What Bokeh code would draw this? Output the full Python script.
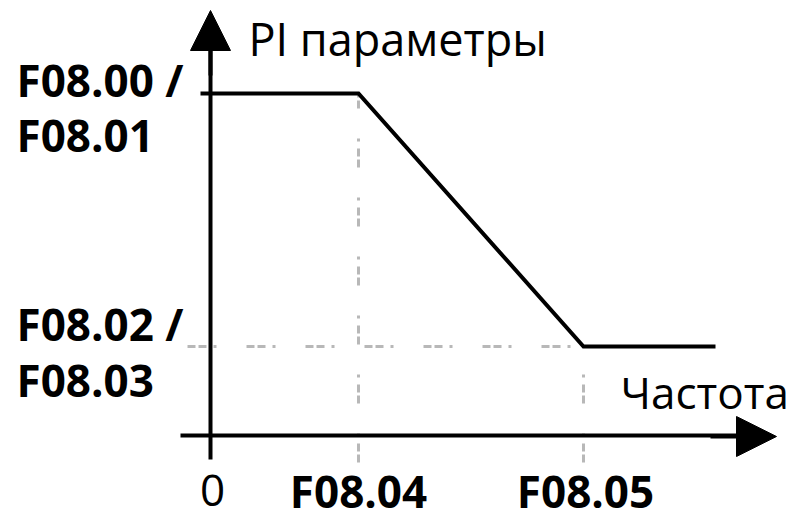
from bokeh.plotting import figure
from bokeh.models import Range1d, Arrow, NormalHead
from bokeh.core.properties import value
from bokeh.embed import file_html
from bokeh.resources import INLINE

# Diagram data (units: 1 = 100 px from the origin)
freq_curve = [-0.10, 1.48, 3.73, 5.05]
pi_curve = [3.42, 3.42, 0.89, 0.89]

f04 = 1.48
f05 = 3.73
pi_high = 3.42
pi_low = 0.89

x_tick_pos = [0.02, 1.48, 3.75]
x_tick_labels = ["0", "F08.04", "F08.05"]

y_label_lines = ["F08.00 /", "F08.01", "F08.02 /", "F08.03"]
y_label_y = [3.56, 3.01, 1.12, 0.56]

y_title = "PI параметры"
x_title = "Частота"

W, H = 792, 511
p = figure(width=W, height=H, output_backend="svg", toolbar_location=None,
           x_range=Range1d(-2.10, 5.82), y_range=Range1d(-0.76, 4.35),
           min_border=0, min_border_left=0, min_border_right=0,
           min_border_top=0, min_border_bottom=0)
p.axis.visible = False
p.grid.visible = False
p.outline_line_color = None
p.background_fill_color = "white"
p.border_fill_color = "white"

gray = "#b8b8b8"
dash = "8 3 8 7 3 30"
# guide lines
p.line([f04, f04], [-0.27, pi_high], line_color=gray, line_width=3, line_dash=dash)
p.line([f05, f05], [-0.27, pi_low], line_color=gray, line_width=3, line_dash=dash)
p.line([-0.23, f05], [pi_low, pi_low], line_color=gray, line_width=3, line_dash=dash)

# axes with arrows
p.line([0, 0], [-0.24, 3.9], line_color="black", line_width=4)
p.line([-0.30, 5.3], [0, 0], line_color="black", line_width=4)
p.add_layout(Arrow(end=NormalHead(size=40, fill_color="black", line_color="black"),
                   x_start=0, y_start=3.6, x_end=0, y_end=4.25,
                   line_color="black", line_width=4))
p.add_layout(Arrow(end=NormalHead(size=40, fill_color="black", line_color="black"),
                   x_start=5.0, y_start=-0.01, x_end=5.66, y_end=-0.01,
                   line_color="black", line_width=4))

# characteristic curve
p.line(freq_curve, pi_curve, line_color="black", line_width=4, line_join="miter")

# tick labels on x
p.text(x=x_tick_pos[:1], y=[-0.545], text=x_tick_labels[:1],
       text_font=value("Open Sans"), text_font_size="44px",
       text_align="center", text_baseline="middle", text_color="black")
p.text(x=x_tick_pos[1:], y=[-0.55, -0.55], text=x_tick_labels[1:],
       text_font=value("Open Sans"), text_font_style="bold", text_font_size="44px",
       text_align="center", text_baseline="middle", text_color="black")

# y labels
p.text(x=[-1.94] * 4, y=y_label_y, text=y_label_lines,
       text_font=value("Open Sans"), text_font_style="bold", text_font_size="44px",
       text_align="left", text_baseline="middle", text_color="black")

# axis titles
p.text(x=[0.38], y=[3.97], text=[y_title],
       text_font=value("Open Sans"), text_font_size="45px",
       text_align="left", text_baseline="middle", text_color="black")
p.text(x=[4.10], y=[0.44], text=[x_title],
       text_font=value("Open Sans"), text_font_size="44px",
       text_align="left", text_baseline="middle", text_color="black")

open("out.html", "w").write(file_html(p, INLINE))
